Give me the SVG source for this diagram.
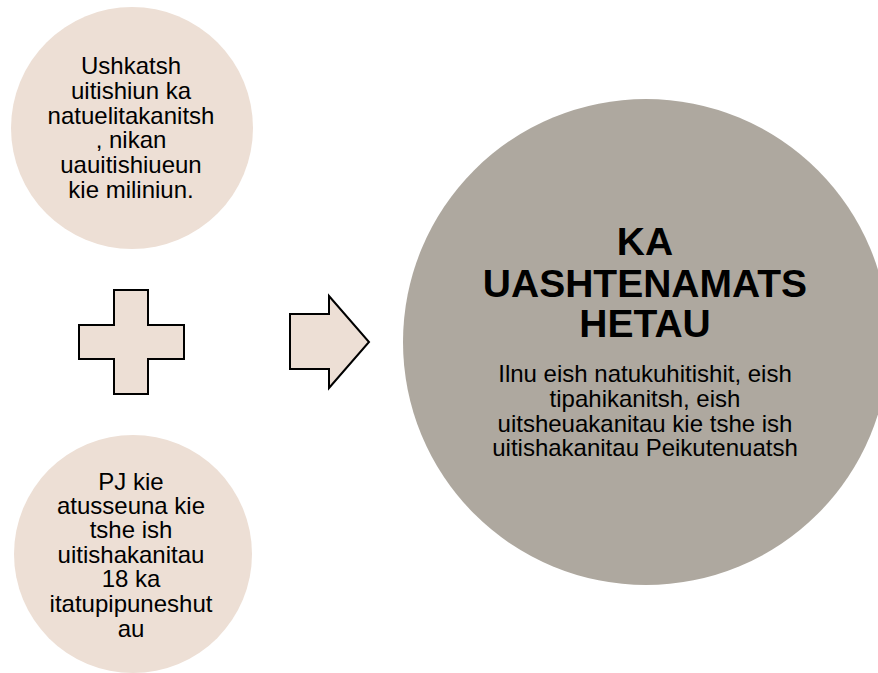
<svg xmlns="http://www.w3.org/2000/svg" width="878" height="673" viewBox="0 0 878 673">
<style>
.bg{fill:#ffffff}
.beige{fill:#EDDFD5}
.gray{fill:#AEA89F}
.shape{fill:#EDDFD5;stroke:#000;stroke-width:2;stroke-linejoin:miter}
.t{font-family:"Liberation Sans",Arial,sans-serif;font-size:24px;fill:#000;text-anchor:middle}
.title{font-family:"Liberation Sans",Arial,sans-serif;font-size:39px;font-weight:bold;fill:#000;text-anchor:middle}
</style>
<rect class="bg" x="0" y="0" width="878" height="673"/>
<g id="node-top">
<circle class="beige" cx="132" cy="128" r="121"/>
<text class="t" x="131" y="74">Ushkatsh</text>
<text class="t" x="131" y="99">uitishiun ka</text>
<text class="t" x="131" y="124">natuelitakanitsh</text>
<text class="t" x="131" y="148">, nikan</text>
<text class="t" x="131" y="173">uauitishiueun</text>
<text class="t" x="131" y="198">kie miliniun.</text>
</g>
<g id="node-bottom">
<circle class="beige" cx="133" cy="554" r="119"/>
<text class="t" x="131" y="490">PJ kie</text>
<text class="t" x="131" y="514">atusseuna kie</text>
<text class="t" x="131" y="538">tshe ish</text>
<text class="t" x="131" y="563">uitishakanitau</text>
<text class="t" x="131" y="587">18 ka</text>
<text class="t" x="131" y="612">itatupipuneshut</text>
<text class="t" x="131" y="637">au</text>
</g>
<g id="plus">
<polygon class="shape" points="114,290 148,290 148,325 184,325 184,359 148,359 148,394 114,394 114,359 79,359 79,325 114,325"/>
</g>
<g id="connectors">
<polygon class="shape" points="290,314 329,314 329,296 369,342 329,388 329,369 290,369"/>
</g>
<g id="node-result">
<circle class="gray" cx="646" cy="342" r="243"/>
<text class="title" x="645" y="255">KA</text>
<text class="title" x="645" y="297">UASHTENAMATS</text>
<text class="title" x="645" y="337">HETAU</text>
<text class="t" x="645" y="382">Ilnu eish natukuhitishit, eish</text>
<text class="t" x="645" y="407">tipahikanitsh, eish</text>
<text class="t" x="645" y="432">uitsheuakanitau kie tshe ish</text>
<text class="t" x="645" y="456">uitishakanitau Peikutenuatsh</text>
</g>
</svg>
